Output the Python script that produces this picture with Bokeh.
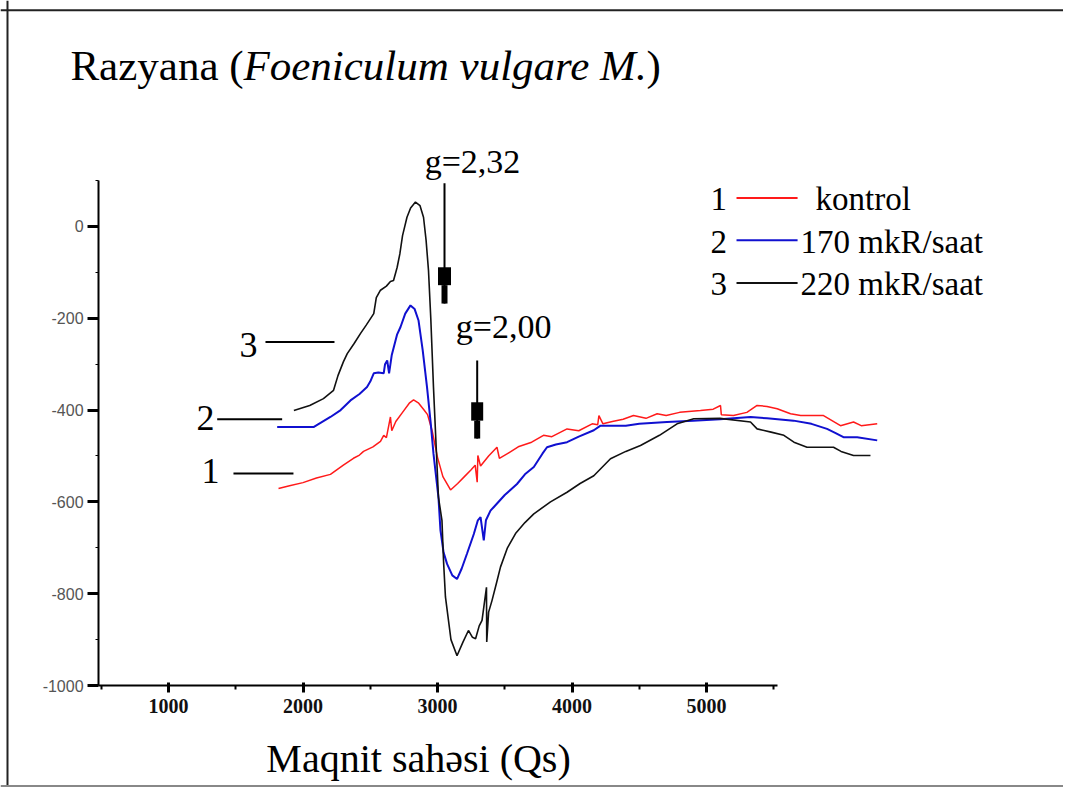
from bokeh.plotting import figure
from bokeh.models import Label, FixedTicker, Range1d, Span, PrintfTickFormatter
from bokeh.embed import file_html
from bokeh.resources import INLINE

# ---------------- data ----------------
qs_kontrol = [1818, 1900, 2000, 2100, 2204, 2300, 2375, 2420, 2450, 2520, 2576, 2600, 2620, 2640,
              2650, 2660, 2690, 2740, 2790, 2822, 2860, 2900, 2926, 2960, 3000, 3040, 3097, 3150,
              3200, 3250, 3280, 3295, 3300, 3320, 3380, 3442, 3460, 3520, 3600, 3700, 3788, 3850,
              3963, 4050, 4150, 4191, 4200, 4230, 4300, 4380, 4457, 4550, 4633, 4700, 4800, 4955,
              5050, 5104, 5110, 5200, 5300, 5376, 5450, 5525, 5625, 5700, 5870, 5996, 6093, 6150, 6269]
sig_kontrol = [-571, -565, -558, -548, -540, -520, -505, -498, -490, -480, -468, -455, -460, -430,
               -415, -445, -425, -405, -385, -378, -385, -400, -410, -445, -503, -545, -574, -560,
               -545, -530, -520, -557, -499, -522, -500, -481, -505, -495, -480, -470, -455, -458,
               -441, -445, -430, -432, -412, -430, -425, -420, -412, -418, -408, -412, -405, -401,
               -398, -390, -410, -412, -405, -390, -392, -397, -408, -412, -412, -434, -426, -434, -430]

qs_170 = [1808, 2078, 2204, 2280, 2353, 2420, 2476, 2500, 2526, 2560, 2600, 2610, 2626, 2640, 2660,
          2700, 2725, 2760, 2799, 2830, 2859, 2890, 2922, 2950, 2970, 3007, 3022, 3045, 3071, 3110,
          3145, 3180, 3219, 3270, 3300, 3320, 3344, 3360, 3394, 3419, 3500, 3591, 3650, 3716, 3780,
          3814, 3880, 3963, 4050, 4162, 4212, 4400, 4500, 4706, 4900, 5100, 5327, 5450, 5647, 5780,
          5896, 5960, 6018, 6120, 6269]
sig_170 = [-437, -437, -415, -400, -379, -365, -350, -338, -320, -318, -320, -300, -292, -320, -280,
           -235, -219, -190, -172, -180, -205, -270, -350, -430, -495, -590, -662, -710, -735, -760,
           -768, -745, -713, -670, -640, -633, -684, -640, -619, -611, -585, -561, -540, -524, -495,
           -481, -475, -470, -458, -444, -434, -434, -430, -426, -423, -420, -415, -418, -423, -430,
           -441, -450, -459, -459, -466]

qs_220 = [1932, 2050, 2152, 2227, 2260, 2300, 2329, 2380, 2428, 2470, 2526, 2545, 2576, 2620, 2650,
          2673, 2690, 2700, 2720, 2740, 2773, 2800, 2836, 2870, 2896, 2915, 2933, 2950, 2970, 2990,
          3007, 3033, 3045, 3059, 3100, 3145, 3190, 3230, 3260, 3283, 3310, 3331, 3364, 3366, 3380,
          3405, 3440, 3468, 3520, 3580, 3650, 3716, 3840, 3963, 4060, 4162, 4286, 4400, 4509, 4650,
          4781, 4905, 5100, 5327, 5376, 5480, 5575, 5650, 5747, 5944, 6000, 6093, 6219]
sig_220 = [-401, -390, -375, -357, -325, -295, -277, -255, -233, -215, -190, -155, -139, -130, -120,
           -118, -100, -89, -60, -20, 20, 40, 53, 45, 20, -30, -96, -200, -350, -480,
           -590, -640, -730, -807, -900, -935, -905, -880, -895, -898, -870, -858, -786, -905, -840,
           -815, -775, -742, -700, -669, -645, -626, -600, -579, -560, -543, -506, -490, -477, -455,
           -430, -419, -418, -426, -441, -448, -455, -470, -481, -481, -490, -499, -499]

series_names = ["kontrol", "170 mkR/saat", "220 mkR/saat"]
series_nums = ["1", "2", "3"]
series_colors = ["#ff1a1a", "#1010d0", "#111111"]

x_ticks = [1000, 2000, 3000, 4000, 5000]
x_minor = [500, 1000, 1500, 2000, 2500, 3000, 3500, 4000, 4500, 5000, 5500]
y_ticks = [-1000, -800, -600, -400, -200, 0]
y_minor = [-1000, -900, -800, -700, -600, -500, -400, -300, -200, -100, 0, 100]

SERIF = "Liberation Serif"

p = figure(width=1063, height=787, output_backend="svg", toolbar_location=None,
           x_range=Range1d(-249, 7654), y_range=Range1d(-1222, 492),
           min_border_left=0, min_border_right=0, min_border_top=0, min_border_bottom=0,
           background_fill_color="white", border_fill_color="white")
p.outline_line_color = None
p.grid.visible = False

# picture border
p.add_layout(Span(location=-197, dimension="height", line_color="#222", line_width=2))
p.add_layout(Span(location=471, dimension="width", line_color="#222", line_width=2))
p.add_layout(Span(location=-1219, dimension="width", line_color="#888", line_width=2))

# axes (placed at fixed data locations)
xa = p.xaxis[0]
xa.fixed_location = -1000
xa.ticker = FixedTicker(ticks=x_ticks, minor_ticks=x_minor)
xa.bounds = (480, 5530)
xa.axis_line_width = 2
xa.major_tick_in = 3
xa.major_tick_out = 7
xa.major_tick_line_width = 3
xa.minor_tick_in = 0
xa.minor_tick_out = 4
xa.minor_tick_line_width = 2
xa.major_label_standoff = 6
xa.major_label_text_font = SERIF
xa.major_label_text_font_style = "bold"
xa.major_label_text_font_size = "20px"
xa.major_label_text_color = "#111"

ya = p.yaxis[0]
ya.fixed_location = 480
ya.ticker = FixedTicker(ticks=y_ticks, minor_ticks=y_minor)
ya.formatter = PrintfTickFormatter(format="%d")
ya.bounds = (-1000, 100)
ya.axis_line_width = 2
ya.major_tick_in = 0
ya.major_tick_out = 11
ya.major_tick_line_width = 3
ya.minor_tick_in = 0
ya.minor_tick_out = 3
ya.minor_tick_line_width = 1
ya.major_label_standoff = 4
ya.major_label_text_font = "Liberation Sans"
ya.major_label_text_font_size = "16px"
ya.major_label_text_color = "#555"

# curves
for xs, ys, c, w in [(qs_kontrol, sig_kontrol, series_colors[0], 1.5),
                     (qs_170, sig_170, series_colors[1], 2),
                     (qs_220, sig_220, series_colors[2], 1.6)]:
    p.line(xs, ys, line_color=c, line_width=w)

# ---------------- annotations ----------------
def lab(x, y, t, size, align="left", base="middle", style="normal", color="black"):
    p.add_layout(Label(x=x, y=y, text=t, text_font=SERIF, text_font_size=size,
                       text_align=align, text_baseline=base, text_font_style=style,
                       text_color=color))

# title
lab(271, 351, "Razyana (", "43px")
lab(1557, 351, "Foeniculum vulgare M.", "43px", style="italic")
lab(4553, 351, ")", "43px")

# axis title
lab(2859, -1159, "Maqnit sahəsi (Qs)", "40px", align="center")

# g-markers with arrows
lab(3260, 142, "g=2,32", "34px", align="center")
p.segment(x0=[3052], y0=[94], x1=[3052], y1=[-168], line_color="black", line_width=2)
p.segment(x0=[3052], y0=[-89], x1=[3052], y1=[-128], line_color="black", line_width=13)
p.segment(x0=[3052], y0=[-128], x1=[3052], y1=[-168], line_color="black", line_width=6)

lab(3491, -217, "g=2,00", "34px", align="center")
p.segment(x0=[3295], y0=[-292], x1=[3295], y1=[-462], line_color="black", line_width=2)
p.segment(x0=[3295], y0=[-383], x1=[3295], y1=[-423], line_color="black", line_width=12)
p.segment(x0=[3295], y0=[-423], x1=[3295], y1=[-462], line_color="black", line_width=6)

# curve number tags
tag_y = [-532, -418, -259]
tag_x = [1379, 1342, 1662]
tag_line = [(1483, 1929, -538), (1362, 1845, -420), (1721, 2234, -252)]
for i in range(3):
    lab(tag_x[i], tag_y[i], series_nums[i], "36px", align="right")
    x0, x1, yy = tag_line[i]
    p.segment(x0=[x0], y0=[yy], x1=[x1], y1=[yy], line_color="black", line_width=2)

# legend
leg_y = [59, -33, -126]
leg_text_x = [5810, 5699, 5699]
for i in range(3):
    lab(5030, leg_y[i], series_nums[i], "33px")
    p.segment(x0=[5223], y0=[leg_y[i] + 3], x1=[5677], y1=[leg_y[i] + 3],
              line_color=series_colors[i], line_width=2)
    lab(leg_text_x[i], leg_y[i], series_names[i], "33px")

open("out.html", "w").write(file_html(p, INLINE))
